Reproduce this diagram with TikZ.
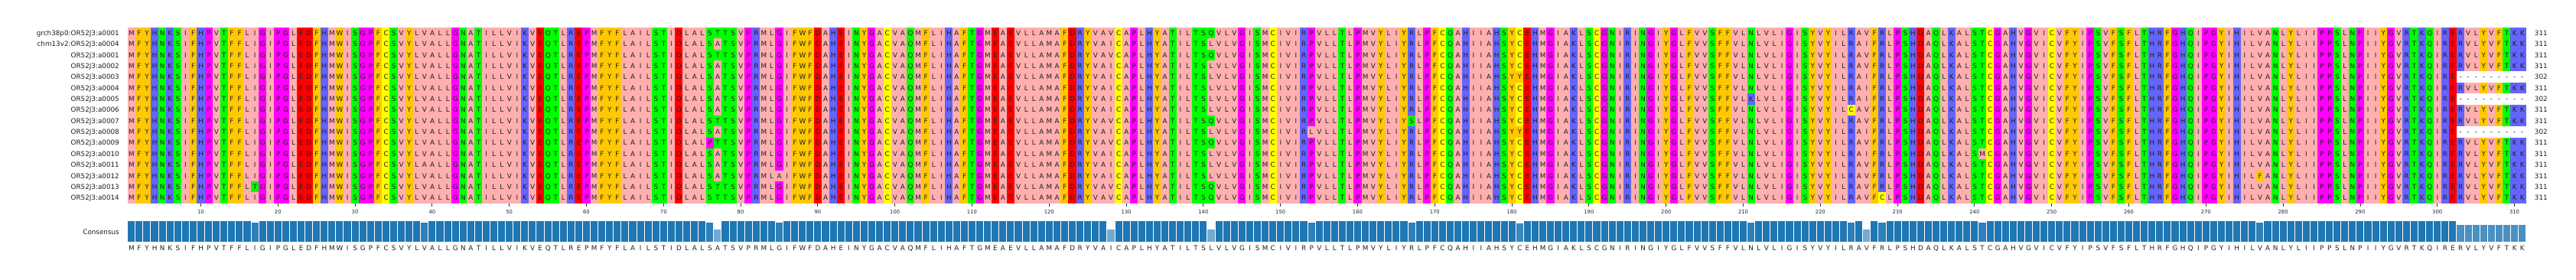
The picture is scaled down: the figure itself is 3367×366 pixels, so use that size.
\documentclass[tikz,border=0pt]{standalone}
\usepackage{fontspec}
\setmainfont{DejaVu Sans}
\definecolor{zhyd}{HTML}{FFAFAF}
\definecolor{zaro}{HTML}{FFC800}
\definecolor{zpos}{HTML}{6464FF}
\definecolor{zneg}{HTML}{FF0000}
\definecolor{zphil}{HTML}{00FF00}
\definecolor{zconf}{HTML}{FF00FF}
\definecolor{zcys}{HTML}{FFFF00}
\definecolor{tabblue}{HTML}{1F77B4}
\colorlet{zcI}{zhyd}\colorlet{zcL}{zhyd}\colorlet{zcV}{zhyd}\colorlet{zcA}{zhyd}\colorlet{zcM}{zhyd}
\colorlet{zcF}{zaro}\colorlet{zcW}{zaro}\colorlet{zcY}{zaro}
\colorlet{zcK}{zpos}\colorlet{zcR}{zpos}\colorlet{zcH}{zpos}
\colorlet{zcD}{zneg}\colorlet{zcE}{zneg}
\colorlet{zcS}{zphil}\colorlet{zcT}{zphil}\colorlet{zcN}{zphil}\colorlet{zcQ}{zphil}
\colorlet{zcP}{zconf}\colorlet{zcG}{zconf}
\colorlet{zcC}{zcys}
\newcount\ci
\newcount\cj
\def\cons{MFYHNKSIFHPVTFFLIGIPGLEDFHMWISGPFCSVYLVALLGNATILLVIKVEQTLREPMFYFLAILSTIDLALSATSVPRMLGIFWFDAHEINYGACVAQMFLIHAFTGMEAEVLLAMAFDRYVAICAPLHYATILTSLVLVGISMCIVIRPVLLTLPMVYLIYRLPFCQAHIIAHSYCEHMGIAKLSCGNIRINGIYGLFVVSFFVLNLVLIGISYVYILRAVFRLPSHDAQLKALSTCGAHVGVICVFYIPSVFSFLTHRFGHQIPGYIHILVANLYLIIPPSLNPIIYGVRTKQIRERVLYVFTKK}
\def\colbg#1{\ifx#1\relax\else
  \global\advance\ci by 1
  \fill[zc#1] ({166.7+(\the\ci-1)*10.08},36) rectangle ({166.7+\the\ci*10.08+0.4},265.76);%
  \expandafter\colbg\fi}
\def\rowtext{\global\cj=0 \expandafter\rowtexti\cons\relax}
\def\rowtexti#1{\ifx#1\relax\else
  \global\advance\cj by 1
  \ifcsname ov@\currow @\the\cj\endcsname
    \makebox[10.08pt]{\csname ov@\currow @\the\cj\endcsname}%
  \else
    \makebox[10.08pt]{#1}%
  \fi
  \expandafter\rowtexti\fi}
\def\ov#1#2#3{\expandafter\gdef\csname ov@#1@#2\endcsname{#3}%
  \fill[zc#3] ({166.7+(#2-1)*10.08},{36+(#1-1)*14.36}) rectangle ({166.7+#2*10.08},{36+#1*14.36});}
\def\gapcell#1#2{\expandafter\gdef\csname ov@#1@#2\endcsname{-}%
  \fill[white] ({166.7+(#2-1)*10.08},{36+(#1-1)*14.36}) rectangle ({166.7+#2*10.08+0.4},{36+#1*14.36});}
\def\setfr#1#2{\expandafter\gdef\csname fr@#1\endcsname{#2}}
\begin{document}
\begin{tikzpicture}[x=1pt,y=-1pt,
  seqtext/.style={font=\fontsize{8.8}{10}\selectfont, text=black!88, inner sep=0pt},
  labtext/.style={font=\fontsize{8.8}{10}\selectfont, text=black!88, inner sep=0pt},
  ticklab/.style={font=\fontsize{6.8}{8}\selectfont, text=black!85, inner sep=0pt},
  tickline/.style={draw=black!80, line width=0.8pt},
  barstyle/.style={fill=tabblue, draw=white, line width=0.9pt}]
\useasboundingbox (0,0) rectangle (3367,366);
% column backgrounds
\global\ci=0 \expandafter\colbg\cons\relax
% variant cells
\ov{1}{77}{T}\ov{1}{128}{V}\ov{1}{141}{Q}
\ov{2}{226}{I}
\ov{3}{77}{T}\ov{3}{128}{V}\ov{3}{141}{Q}
\ov{5}{181}{Y}\ov{5}{226}{I}
\ov{6}{226}{I}
\ov{7}{211}{K}\ov{7}{226}{I}
\ov{8}{224}{C}
\ov{9}{77}{T}\ov{9}{128}{V}\ov{9}{141}{Q}\ov{9}{167}{S}
\ov{10}{154}{L}\ov{10}{181}{Y}\ov{10}{226}{I}
\ov{11}{76}{P}\ov{11}{77}{T}\ov{11}{128}{V}\ov{11}{141}{Q}
\ov{12}{226}{I}\ov{12}{241}{M}
\ov{13}{39}{A}
\ov{14}{85}{A}\ov{14}{277}{F}
\ov{15}{17}{T}\ov{15}{77}{T}\ov{15}{128}{V}\ov{15}{141}{Q}
\ov{16}{77}{T}\ov{16}{128}{V}\ov{16}{141}{Q}\ov{16}{228}{C}
\foreach \rr in {5,7,10}{\foreach \cc in {303,...,311}{\gapcell{\rr}{\cc}}}
% sequence letters
\foreach \rr in {1,...,16}{
  \node[seqtext, anchor=base west] (seq\rr) at (166.7,{36+(\rr-0.5)*14.36+3.2}) {\edef\currow{\rr}\rowtext};
}
% labels
\foreach \rr/\nm in {1/grch38p0:OR52J3:a0001, 2/chm13v2:OR52J3:a0004, 3/OR52J3:a0001, 4/OR52J3:a0002,
  5/OR52J3:a0003, 6/OR52J3:a0004, 7/OR52J3:a0005, 8/OR52J3:a0006, 9/OR52J3:a0007, 10/OR52J3:a0008,
  11/OR52J3:a0009, 12/OR52J3:a0010, 13/OR52J3:a0011, 14/OR52J3:a0012, 15/OR52J3:a0013, 16/OR52J3:a0014}{
  \node[labtext, anchor=base east] (lab\rr) at (156,{36+(\rr-0.5)*14.36+3.2}) {\nm};
}
% lengths
\foreach \rr/\ln in {1/311,2/311,3/311,4/311,5/302,6/311,7/302,8/311,9/311,10/302,11/311,12/311,13/311,14/311,15/311,16/311}{
  \node[labtext, anchor=base west] (len\rr) at (3312.7,{36+(\rr-0.5)*14.36+3.2}) {\ln};
}
% ticks
\foreach \tk in {10,20,...,310}{
  \coordinate (tt\tk) at ({166.7+(\tk-0.5)*10.08},265.76);
  \node[ticklab, anchor=base] (tk\tk) at ({166.7+(\tk-0.5)*10.08},279.4) {\tk};
  \draw[tickline] (tt\tk) -- ++(0,4.5);
}
% conservation fractions
\setfr{17}{0.9375}\setfr{39}{0.9375}\setfr{76}{0.9375}\setfr{77}{0.625}\setfr{85}{0.9375}
\setfr{128}{0.625}\setfr{141}{0.625}\setfr{154}{0.9375}\setfr{167}{0.9375}\setfr{181}{0.875}
\setfr{211}{0.9375}\setfr{224}{0.9375}\setfr{226}{0.625}\setfr{228}{0.9375}\setfr{241}{0.9375}
\setfr{277}{0.9375}
\foreach \cc in {303,...,311}{\setfr{\cc}{0.8125}}
\foreach \cc in {1,...,311}{
  \ifcsname fr@\cc\endcsname \edef\ff{\csname fr@\cc\endcsname}\else \def\ff{1}\fi
  \filldraw[barstyle, fill opacity=\ff] ({166.7+(\cc-1)*10.08},316.7) rectangle ({166.7+\cc*10.08},{316.7-28.4*\ff});
}
\node[labtext, anchor=base east] (conslab) at (156,306.2) {Consensus};
\node[seqtext, anchor=base west] (consseq) at (166.7,327.2) {\def\currow{0}\rowtext};
\end{tikzpicture}
\end{document}
